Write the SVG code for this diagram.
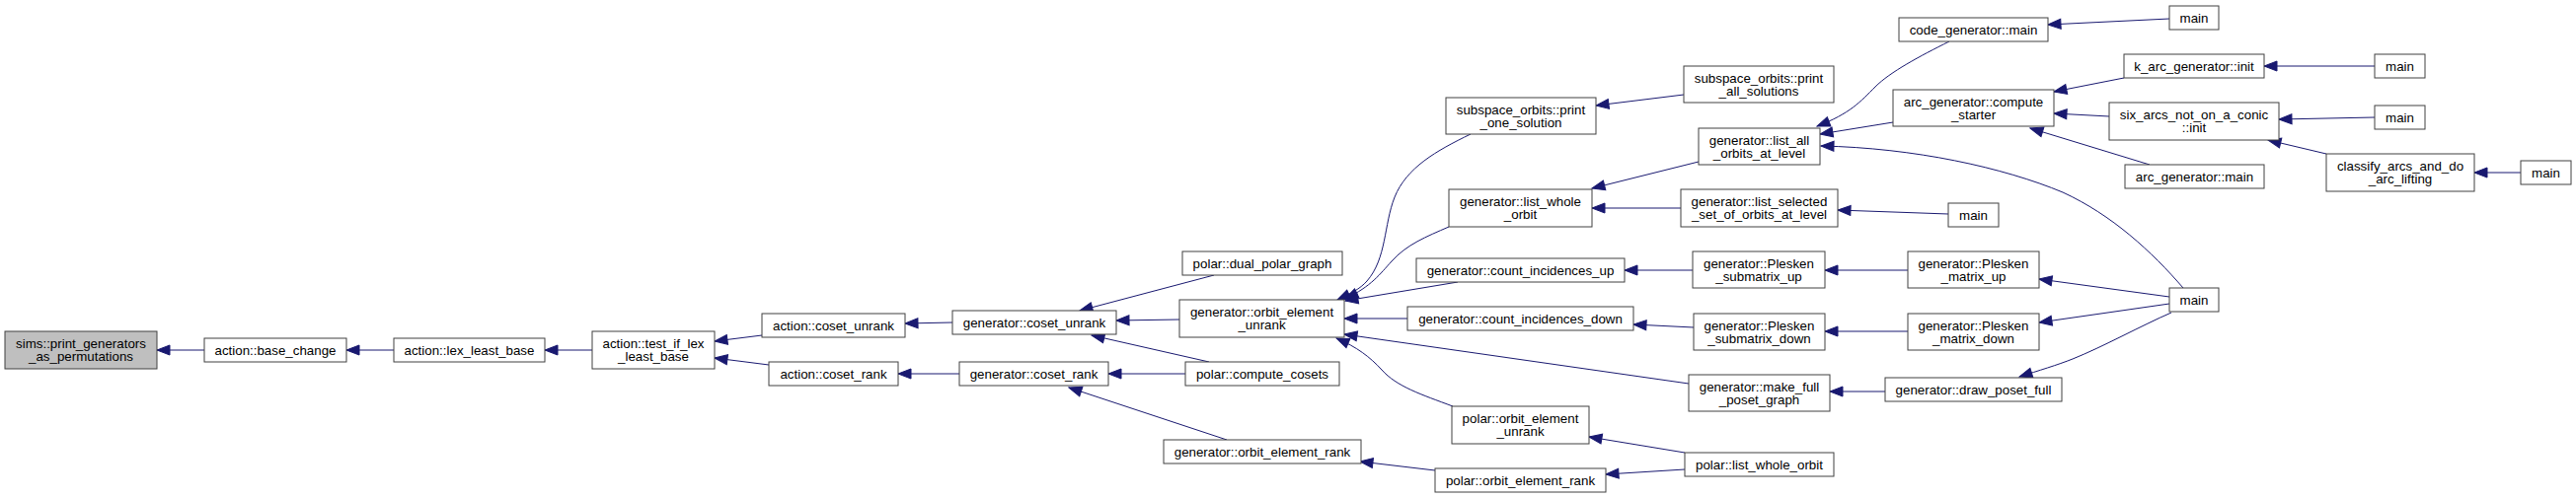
<svg xmlns="http://www.w3.org/2000/svg" width="2610" height="505" viewBox="0 0 2610 505">
<defs>
<marker id="arr" markerUnits="userSpaceOnUse" markerWidth="16" markerHeight="12" viewBox="-14 -6 16 12" refX="0" refY="0" orient="auto">
<path d="M0,0 L-13,-5 L-13,5 z" fill="#191970" stroke="#191970" stroke-width="1"/>
</marker>
<style>
.n rect{fill:#fff;stroke:#404040;stroke-width:1}
.n.root rect{fill:#bfbfbf}
.n text{font-family:"Liberation Sans",Arial,sans-serif;font-size:13.33px;text-anchor:middle;fill:#000}
#edges path{fill:none;stroke:#191970;stroke-width:1;marker-end:url(#arr)}
</style>
</defs>
<rect x="0" y="0" width="2610" height="505" fill="#fff"/>
<g id="edges">
<path d="M207,355 L159,355"/>
<path d="M399,355 L351,355"/>
<path d="M600,355 L552,355"/>
<path d="M772,340 L724,346"/>
<path d="M779,370 L724,363"/>
<path d="M965,327 L917,328"/>
<path d="M972,379 L910,379"/>
<path d="M1230,279 L1094,315"/>
<path d="M1195,324 L1131,325"/>
<path d="M1225,367 L1106,340"/>
<path d="M1201,379 L1123,379"/>
<path d="M1243,446 L1083,393"/>
<path d="M1490,136 C1455,153 1425,170 1413,200 C1402,228 1405,262 1385,285 C1378,293 1368,298 1355,304"/>
<path d="M1468,230 C1445,240 1425,248 1410,265 C1398,278 1390,290 1363,303"/>
<path d="M1477,286 L1363,305"/>
<path d="M1426,323 L1362,323"/>
<path d="M1711,389 L1362,339"/>
<path d="M1472,412 C1440,400 1415,392 1400,375 C1388,362 1375,352 1354,343"/>
<path d="M1454,477 L1378,468"/>
<path d="M1706,96 L1617,107"/>
<path d="M1721,164 L1613,191"/>
<path d="M1703,211 L1613,211"/>
<path d="M1715,274 L1646,274"/>
<path d="M1716,332 L1655,329"/>
<path d="M1707,459 L1610,443"/>
<path d="M1707,476 L1627,481"/>
<path d="M1975,42 C1945,57 1915,73 1900,88 C1885,103 1875,115 1841,128"/>
<path d="M1918,124 L1844,136"/>
<path d="M2212,292 C2180,255 2140,218 2090,195 C2030,170 1940,150 1845,148"/>
<path d="M1974,217 L1862,213"/>
<path d="M1933,274 L1849,274"/>
<path d="M1933,336 L1849,336"/>
<path d="M1910,397 L1854,397"/>
<path d="M2198,301 L2066,283"/>
<path d="M2198,308 L2066,327"/>
<path d="M2200,317 C2170,330 2130,352 2100,364 C2085,370 2065,376 2046,382"/>
<path d="M2198,19 L2075,25"/>
<path d="M2152,79 L2081,93"/>
<path d="M2137,118 L2081,115"/>
<path d="M2178,167 L2057,130"/>
<path d="M2406,67 L2294,67"/>
<path d="M2406,119 L2309,121"/>
<path d="M2357,156 L2298,142"/>
<path d="M2554,175 L2507,175"/>
</g>
<g id="n0" class="n root"><rect x="5" y="336" width="154" height="38"/><text x="82" y="352.5">sims::print_generators</text><text x="82" y="365.5">_as_permutations</text></g>
<g id="n1" class="n"><rect x="207" y="343" width="144" height="24"/><text x="279" y="359.5">action::base_change</text></g>
<g id="n2" class="n"><rect x="399" y="343" width="153" height="24"/><text x="475.5" y="359.5">action::lex_least_base</text></g>
<g id="n3" class="n"><rect x="600" y="336" width="124" height="38"/><text x="662" y="352.5">action::test_if_lex</text><text x="662" y="365.5">_least_base</text></g>
<g id="n4" class="n"><rect x="772" y="318" width="145" height="24"/><text x="844.5" y="334.5">action::coset_unrank</text></g>
<g id="n5" class="n"><rect x="779" y="367" width="131" height="24"/><text x="844.5" y="383.5">action::coset_rank</text></g>
<g id="n6" class="n"><rect x="965" y="315" width="166" height="24"/><text x="1048" y="331.5">generator::coset_unrank</text></g>
<g id="n7" class="n"><rect x="972" y="367" width="151" height="24"/><text x="1047.5" y="383.5">generator::coset_rank</text></g>
<g id="n8" class="n"><rect x="1198" y="255" width="162" height="24"/><text x="1279" y="271.5">polar::dual_polar_graph</text></g>
<g id="n9" class="n"><rect x="1195" y="304" width="167" height="38"/><text x="1278.5" y="320.5">generator::orbit_element</text><text x="1278.5" y="333.5">_unrank</text></g>
<g id="n10" class="n"><rect x="1201" y="367" width="156" height="24"/><text x="1279" y="383.5">polar::compute_cosets</text></g>
<g id="n11" class="n"><rect x="1179" y="446" width="200" height="24"/><text x="1279" y="462.5">generator::orbit_element_rank</text></g>
<g id="n12" class="n"><rect x="1465" y="99" width="152" height="37"/><text x="1541" y="115.5">subspace_orbits::print</text><text x="1541" y="128.5">_one_solution</text></g>
<g id="n13" class="n"><rect x="1468" y="192" width="145" height="38"/><text x="1540.5" y="208.5">generator::list_whole</text><text x="1540.5" y="221.5">_orbit</text></g>
<g id="n14" class="n"><rect x="1435" y="262" width="211" height="24"/><text x="1540.5" y="278.5">generator::count_incidences_up</text></g>
<g id="n15" class="n"><rect x="1426" y="311" width="229" height="24"/><text x="1540.5" y="327.5">generator::count_incidences_down</text></g>
<g id="n16" class="n"><rect x="1471" y="412" width="139" height="38"/><text x="1540.5" y="428.5">polar::orbit_element</text><text x="1540.5" y="441.5">_unrank</text></g>
<g id="n17" class="n"><rect x="1454" y="475" width="173" height="24"/><text x="1540.5" y="491.5">polar::orbit_element_rank</text></g>
<g id="n18" class="n"><rect x="1706" y="67" width="152" height="37"/><text x="1782" y="83.5">subspace_orbits::print</text><text x="1782" y="96.5">_all_solutions</text></g>
<g id="n19" class="n"><rect x="1721" y="130" width="123" height="37"/><text x="1782.5" y="146.5">generator::list_all</text><text x="1782.5" y="159.5">_orbits_at_level</text></g>
<g id="n20" class="n"><rect x="1703" y="192" width="159" height="38"/><text x="1782.5" y="208.5">generator::list_selected</text><text x="1782.5" y="221.5">_set_of_orbits_at_level</text></g>
<g id="n21" class="n"><rect x="1715" y="255" width="134" height="37"/><text x="1782" y="271.5">generator::Plesken</text><text x="1782" y="284.5">_submatrix_up</text></g>
<g id="n22" class="n"><rect x="1716" y="318" width="133" height="37"/><text x="1782.5" y="334.5">generator::Plesken</text><text x="1782.5" y="347.5">_submatrix_down</text></g>
<g id="n23" class="n"><rect x="1711" y="380" width="143" height="37"/><text x="1782.5" y="396.5">generator::make_full</text><text x="1782.5" y="409.5">_poset_graph</text></g>
<g id="n24" class="n"><rect x="1707" y="459" width="151" height="24"/><text x="1782.5" y="475.5">polar::list_whole_orbit</text></g>
<g id="n25" class="n"><rect x="1924" y="18" width="151" height="24"/><text x="1999.5" y="34.5">code_generator::main</text></g>
<g id="n26" class="n"><rect x="1918" y="91" width="163" height="37"/><text x="1999.5" y="107.5">arc_generator::compute</text><text x="1999.5" y="120.5">_starter</text></g>
<g id="n27" class="n"><rect x="1974" y="206" width="51" height="24"/><text x="1999.5" y="222.5">main</text></g>
<g id="n28" class="n"><rect x="1933" y="255" width="133" height="37"/><text x="1999.5" y="271.5">generator::Plesken</text><text x="1999.5" y="284.5">_matrix_up</text></g>
<g id="n29" class="n"><rect x="1933" y="318" width="133" height="37"/><text x="1999.5" y="334.5">generator::Plesken</text><text x="1999.5" y="347.5">_matrix_down</text></g>
<g id="n30" class="n"><rect x="1910" y="383" width="179" height="24"/><text x="1999.5" y="399.5">generator::draw_poset_full</text></g>
<g id="n31" class="n"><rect x="2152" y="55" width="142" height="24"/><text x="2223" y="71.5">k_arc_generator::init</text></g>
<g id="n32" class="n"><rect x="2137" y="104" width="172" height="38"/><text x="2223" y="120.5">six_arcs_not_on_a_conic</text><text x="2223" y="133.5">::init</text></g>
<g id="n33" class="n"><rect x="2153" y="167" width="141" height="24"/><text x="2223.5" y="183.5">arc_generator::main</text></g>
<g id="n34" class="n"><rect x="2198" y="6" width="50" height="24"/><text x="2223" y="22.5">main</text></g>
<g id="n35" class="n"><rect x="2406" y="55" width="51" height="24"/><text x="2431.5" y="71.5">main</text></g>
<g id="n36" class="n"><rect x="2406" y="107" width="51" height="24"/><text x="2431.5" y="123.5">main</text></g>
<g id="n37" class="n"><rect x="2357" y="156" width="150" height="38"/><text x="2432" y="172.5">classify_arcs_and_do</text><text x="2432" y="185.5">_arc_lifting</text></g>
<g id="n38" class="n"><rect x="2554" y="163" width="51" height="24"/><text x="2579.5" y="179.5">main</text></g>
<g id="n39" class="n"><rect x="2198" y="292" width="50" height="24"/><text x="2223" y="308.5">main</text></g>
</svg>
